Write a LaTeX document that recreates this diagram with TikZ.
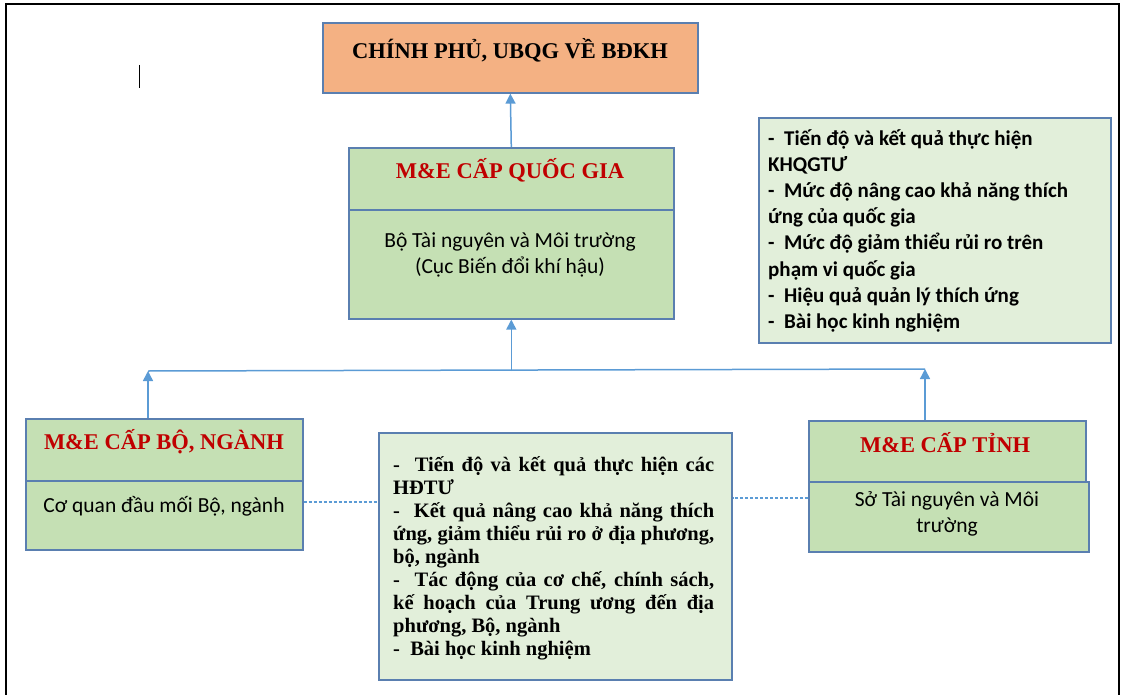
\documentclass[tikz,border=0pt]{standalone}
\usepackage{fontspec}
\usetikzlibrary{arrows.meta}
\setmainfont{Liberation Serif}
\newfontfamily\calibri{Carlito}
\definecolor{boxblue}{HTML}{5A7FB0}
\definecolor{arrowblue}{HTML}{5B9BD5}
\definecolor{govorange}{HTML}{F4B183}
\definecolor{megreen}{HTML}{C5E0B4}
\definecolor{palegreen}{HTML}{E2EFDA}
\definecolor{titlered}{HTML}{C00000}
\newcommand{\jl}[1]{\makebox[321pt][s]{#1}}

\begin{document}
\begin{tikzpicture}[x=1pt,y=-1pt]
\tikzstyle{every node}+=[inner sep=0pt]
\tikzstyle{box}=[draw=boxblue, line width=1.6pt, anchor=north west]
\tikzstyle{metitle}=[text=titlered, font=\bfseries\fontsize{22.5}{26}\selectfont]
\tikzstyle{body}=[font=\calibri\fontsize{21.5}{26.5}\selectfont, align=center]
\tikzstyle{arr}=[draw=arrowblue, line width=1.5pt, -{Triangle[width=10pt,length=10pt]}]
\tikzstyle{dotline}=[draw=arrowblue, line width=1.5pt, dash pattern=on 3pt off 2pt]
\path[use as bounding box] (0,0) rectangle (1123,695);
\draw [black, line width=1.6pt] (6,695) -- (6,4) -- (1119,4) -- (1119,695);
\draw [black, line width=1pt] (139,65) -- (139,88);
% government
\node [box, fill=govorange, minimum width=375pt, minimum height=70pt] (gov) at (322,22) {};
\node [font=\bfseries\fontsize{22.5}{26}\selectfont] (govtext) at (510,50) {CHÍNH PHỦ, UBQG VỀ BĐKH};
% national level
\node [box, fill=megreen, minimum width=325pt, minimum height=62pt] (natT) at (348,147) {};
\node [box, fill=megreen, minimum width=325pt, minimum height=109pt] (natB) at (348,209) {};
\node [metitle] (nattext) at (510,170) {M\&E CẤP QUỐC GIA};
\node [body] (natbody) at (510,255) {Bộ Tài nguyên và Môi trường\\(Cục Biến đổi khí hậu)};
% ministry level
\node [box, fill=megreen, minimum width=277pt, minimum height=62pt] (minT) at (25,418) {};
\node [box, fill=megreen, minimum width=277pt, minimum height=69pt] (minB) at (25,480) {};
\node [metitle] (mintext) at (164,442) {M\&E CẤP BỘ, NGÀNH};
\node [body] (minbody) at (164,506) {Cơ quan đầu mối Bộ, ngành};
% province level
\node [box, fill=megreen, minimum width=277pt, minimum height=61pt] (provT) at (808,420) {};
\node [box, fill=megreen, minimum width=280pt, minimum height=70pt] (provB) at (808,481) {};
\node [metitle] (provtext) at (945,443) {M\&E CẤP TỈNH};
\node [body] (provbody) at (947,514) {Sở Tài nguyên và Môi\\trường};
% indicators
\node [box, fill=palegreen, minimum width=352pt, minimum height=225pt] (natinfo) at (758,117) {};
\node [anchor=north west, align=left, font=\calibri\bfseries\fontsize{21}{26.2}\selectfont] (natlist) at (768,129)
  {-\ \ Tiến độ và kết quả thực hiện\\KHQGTƯ\\-\ \ Mức độ nâng cao khả năng thích\\ứng của quốc gia\\-\ \ Mức độ giảm thiểu rủi ro trên\\phạm vi quốc gia\\-\ \ Hiệu quả quản lý thích ứng\\-\ \ Bài học kinh nghiệm};
\node [box, fill=palegreen, minimum width=353pt, minimum height=247pt] (info) at (378,432) {};
\node [anchor=north west, align=left, font=\bfseries\fontsize{20.5}{23.1}\selectfont] (infolist) at (393,456)
  {\jl{-\ \ Tiến độ và kết quả thực hiện các}\\HĐTƯ\\\jl{-\ \ Kết quả nâng cao khả năng thích}\\\jl{ứng, giảm thiểu rủi ro ở địa phương,}\\bộ, ngành\\\jl{-\ \ Tác động của cơ chế, chính sách,}\\\jl{kế hoạch của Trung ương đến địa}\\phương, Bộ, ngành\\-\ \ Bài học kinh nghiệm};
% connectors
\coordinate (busL) at (148,371);
\coordinate (busR) at (925,369);
\draw [arrowblue, line width=1.5pt] (busL) -- (busR);
\draw [arr] (natT.north) -- (gov.south);
\draw [arr] (natB.south |- busL) -- (natB.south);
\draw [arr] (busL |- minT.north) -- (busL);
\draw [arr] (busR |- provT.north) -- (busR);
\draw [dotline] ([yshift=13.5pt]minB.east) -- ([yshift=13.5pt]minB.east -| info.west);
\draw [dotline] ([yshift=19pt]provB.west) -- ([yshift=19pt]provB.west -| info.east);
\end{tikzpicture}
\end{document}
